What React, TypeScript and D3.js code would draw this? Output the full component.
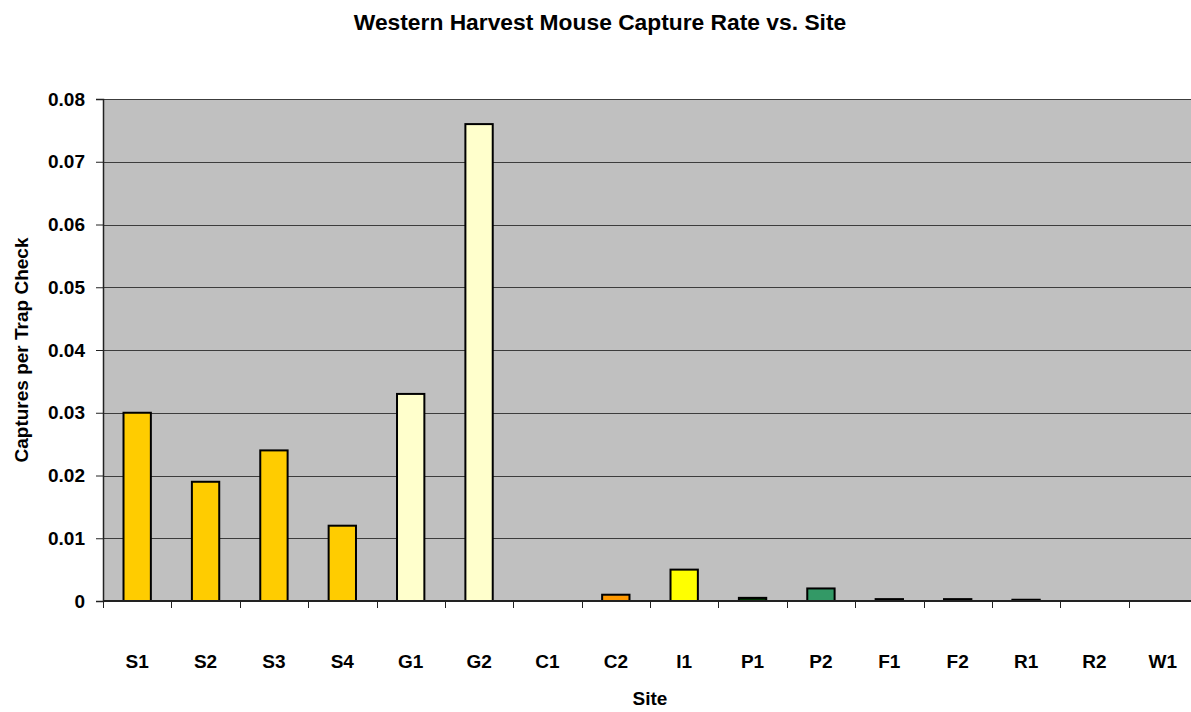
import { useEffect, useRef } from "react";
import * as d3 from "d3";

const sites = ["S1", "S2", "S3", "S4", "G1", "G2", "C1", "C2", "I1", "P1", "P2", "F1", "F2", "R1", "R2", "W1"];
const captureRates = [0.03, 0.019, 0.024, 0.012, 0.033, 0.076, 0, 0.001, 0.005, 0.0005, 0.002, 0.0003, 0.0003, 0.0002, 0, 0];
const barColors = [
  "#ffcc00", "#ffcc00", "#ffcc00", "#ffcc00",
  "#ffffcc", "#ffffcc",
  "#ff9900", "#ff9900",
  "#ffff00",
  "#003300", "#339966",
  "#000000", "#000000", "#000000", "#000000", "#000000",
];
const yTicks = [0, 0.01, 0.02, 0.03, 0.04, 0.05, 0.06, 0.07, 0.08];

const WIDTH = 1191;
const HEIGHT = 712;
const FONT = "'Liberation Sans', Arial, Helvetica, sans-serif";

export default function App() {
  const svgRef = useRef<SVGSVGElement>(null);

  useEffect(() => {
    const margin = { top: 99, right: -6, bottom: 111, left: 103 };
    const boundsWidth = WIDTH - margin.left - margin.right;
    const boundsHeight = HEIGHT - margin.top - margin.bottom;

    const xScale = d3
      .scaleBand()
      .domain(sites)
      .range([0, boundsWidth])
      .paddingInner(0.6)
      .paddingOuter(0.3);

    const yScale = d3.scaleLinear().domain([0, 0.08]).range([boundsHeight, 0]);

    const svg = d3.select(svgRef.current);
    svg.selectAll("*").remove();

    // titre
    svg
      .append("text")
      .attr("x", 600)
      .attr("y", 29.5)
      .attr("text-anchor", "middle")
      .style("font-family", FONT)
      .style("font-weight", "bold")
      .style("font-size", "22.8px")
      .text("Western Harvest Mouse Capture Rate vs. Site");

    const g = svg
      .append("g")
      .attr("transform", `translate(${margin.left},${margin.top})`);

    // fond gris
    g.append("rect")
      .attr("x", 0)
      .attr("y", 0)
      .attr("width", boundsWidth)
      .attr("height", boundsHeight)
      .attr("fill", "#c0c0c0");

    // grelha
    g.append("g")
      .selectAll("line")
      .data(yTicks.slice(1))
      .join("line")
      .attr("x1", 0)
      .attr("x2", boundsWidth)
      .attr("y1", (d) => Math.round(yScale(d)) + 0.5)
      .attr("y2", (d) => Math.round(yScale(d)) + 0.5)
      .attr("stroke", "#3c3c3c")
      .attr("stroke-width", 1.2);

    // barras
    g.selectAll(".bar")
      .data(sites)
      .join("rect")
      .attr("class", "bar")
      .attr("x", (d) => xScale(d)!)
      .attr("y", (d, i) => yScale(captureRates[i]))
      .attr("width", xScale.bandwidth())
      .attr("height", (d, i) => boundsHeight - yScale(captureRates[i]))
      .attr("fill", (d, i) => barColors[i])
      .attr("stroke", "#000")
      .attr("stroke-width", (d, i) => (captureRates[i] > 0 ? 2 : 0));

    // eixo Y
    const yAxis = g
      .append("g")
      .call(d3.axisLeft(yScale).tickValues(yTicks).tickSize(7).tickPadding(11).tickFormat((d) => (d === 0 ? "0" : d3.format(".2f")(d as number))));
    yAxis.select(".domain").attr("stroke", "#222").attr("stroke-width", 1.5);
    yAxis.selectAll(".tick line").attr("stroke", "#222");
    yAxis
      .selectAll(".tick text")
      .style("font-family", FONT)
      .style("font-weight", "bold")
      .style("font-size", "19px")
      .attr("fill", "#000");

    // eixo X
    const step = xScale.step();
    const xAxis = g.append("g").attr("transform", `translate(0,${boundsHeight})`);
    xAxis
      .append("line")
      .attr("x1", 0)
      .attr("x2", boundsWidth)
      .attr("y1", 0)
      .attr("y2", 0)
      .attr("stroke", "#222")
      .attr("stroke-width", 2);
    xAxis
      .selectAll(".xtick")
      .data(d3.range(sites.length + 1))
      .join("line")
      .attr("class", "xtick")
      .attr("x1", (i) => Math.round(i * step) + 0.5)
      .attr("x2", (i) => Math.round(i * step) + 0.5)
      .attr("y1", 0)
      .attr("y2", 7)
      .attr("stroke", "#222");
    xAxis
      .selectAll(".xlabel")
      .data(sites)
      .join("text")
      .attr("class", "xlabel")
      .attr("x", (d) => xScale(d)! + xScale.bandwidth() / 2)
      .attr("y", 67)
      .attr("text-anchor", "middle")
      .style("font-family", FONT)
      .style("font-weight", "bold")
      .style("font-size", "19px")
      .text((d) => d);

    // labels dos eixos
    g.append("text")
      .attr("x", boundsWidth / 2)
      .attr("y", boundsHeight + 104)
      .attr("text-anchor", "middle")
      .style("font-family", FONT)
      .style("font-weight", "bold")
      .style("font-size", "19px")
      .text("Site");

    svg
      .append("text")
      .attr("transform", `translate(28,${margin.top + boundsHeight / 2}) rotate(-90)`)
      .attr("text-anchor", "middle")
      .style("font-family", FONT)
      .style("font-weight", "bold")
      .style("font-size", "19px")
      .text("Captures per Trap Check");
  }, []);

  return (
    <svg
      ref={svgRef}
      width={WIDTH}
      height={HEIGHT}
      style={{ position: "absolute", left: 0, top: 0, background: "#fff" }}
    ></svg>
  );
}
